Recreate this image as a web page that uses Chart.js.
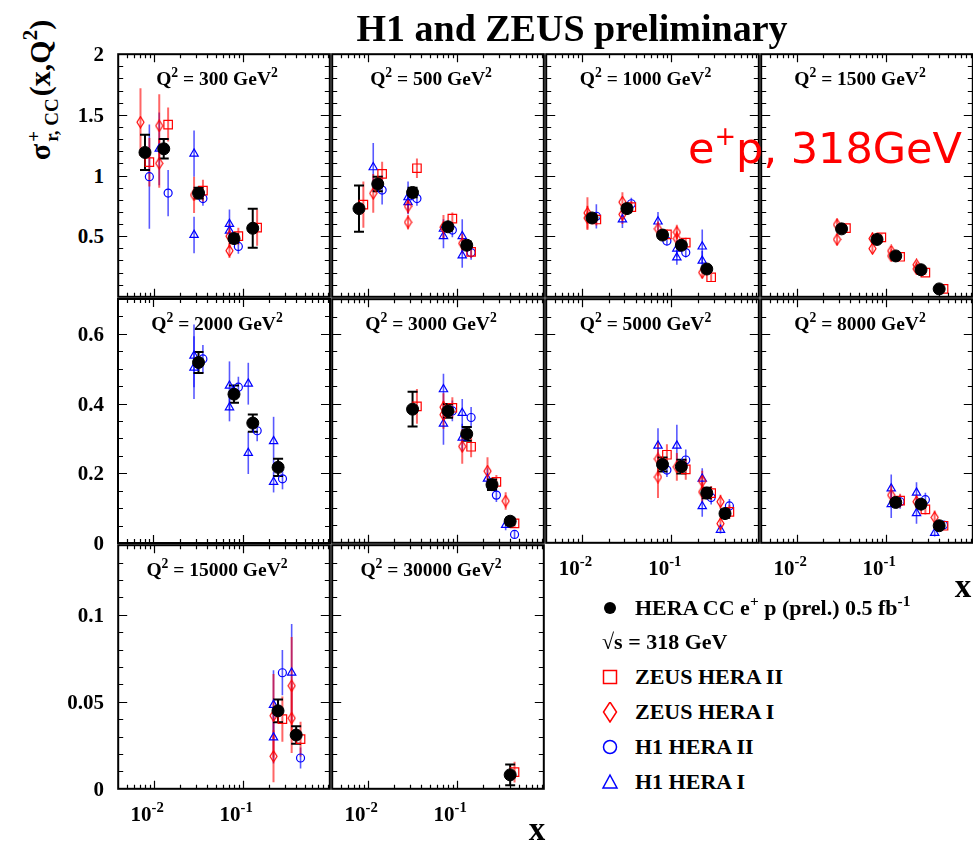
<!DOCTYPE html>
<html><head><meta charset="utf-8">
<script src="https://cdn.jsdelivr.net/npm/chart.js@4.4.0/dist/chart.umd.min.js"></script>
<style>
body{margin:0;background:#fff;width:973px;height:842px;overflow:hidden;position:relative;font-family:"Liberation Serif","Times New Roman",serif;font-weight:bold;color:#000;}
canvas.p{position:absolute;}
.t{position:absolute;white-space:nowrap;line-height:1;}
.t sup{font-size:70%;vertical-align:0;position:relative;top:-0.6em;}
.stk{display:inline-flex;flex-direction:column;font-size:19px;line-height:0.95;vertical-align:middle;text-align:left;margin:0 2px;}
</style></head><body>
<script>
// ---------------- data ----------------
const q2Values = [300, 500, 1000, 1500, 2000, 3000, 5000, 8000, 15000, 30000];
const xTickValues = [0.01, 0.1];
const xTickLabels = ['10<sup>-2</sup>', '10<sup>-1</sup>'];
const rowYMax = [2, 0.7, 0.14];
const rowYTickValues = [[0.5, 1, 1.5, 2], [0, 0.2, 0.4, 0.6], [0, 0.05, 0.1]];
const rowYTickLabels = [['0.5', '1', '1.5', '2'], ['0', '0.2', '0.4', '0.6'], ['0', '0.05', '0.1']];
const seriesNames = ['HERA CC e+ p (prel.) 0.5 fb-1', 'ZEUS HERA II', 'ZEUS HERA I', 'H1 HERA II', 'H1 HERA I'];

// each entry: [x, sigma_r, error] ; one list per Q2 panel
const heraCC = [
  [[0.008,1.19,0.145],[0.013,1.22,0.08],[0.032,0.855,0.045],[0.08,0.48,0.035],[0.13,0.565,0.16]],
  [[0.008,0.727,0.19],[0.013,0.93,0.06],[0.032,0.86,0.04],[0.08,0.577,0.03],[0.13,0.425,0.03]],
  [[0.013,0.65,0.03],[0.032,0.727,0.03],[0.08,0.509,0.025],[0.13,0.425,0.02],[0.25,0.229,0.02]],
  [[0.032,0.56,0.02],[0.08,0.473,0.02],[0.13,0.337,0.015],[0.25,0.223,0.015],[0.4,0.065,0.01]],
  [[0.032,0.518,0.03],[0.08,0.427,0.025],[0.13,0.344,0.025],[0.25,0.217,0.025]],
  [[0.032,0.384,0.05],[0.08,0.379,0.02],[0.13,0.313,0.02],[0.25,0.167,0.015],[0.4,0.062,0.01]],
  [[0.08,0.225,0.02],[0.13,0.219,0.02],[0.25,0.143,0.015],[0.4,0.084,0.012]],
  [[0.13,0.116,0.01],[0.25,0.111,0.01],[0.4,0.049,0.008]],
  [[0.25,0.0448,0.0065],[0.4,0.0309,0.005]],
  [[0.4,0.008,0.006]]
];
const zeusHera2 = [
  [[0.008,1.11,0.2],[0.013,1.42,0.14],[0.032,0.875,0.09],[0.08,0.50,0.07],[0.13,0.57,0.15]],
  [[0.008,0.76,0.19],[0.013,1.013,0.1],[0.032,1.06,0.08],[0.08,0.645,0.05],[0.13,0.37,0.05]],
  [[0.013,0.637,0.05],[0.032,0.74,0.05],[0.08,0.514,0.04],[0.13,0.446,0.04],[0.25,0.161,0.03]],
  [[0.032,0.566,0.03],[0.08,0.49,0.03],[0.13,0.33,0.025],[0.25,0.2,0.02],[0.4,0.065,0.015]],
  [],
  [[0.032,0.392,0.05],[0.08,0.388,0.03],[0.13,0.276,0.03],[0.25,0.175,0.02],[0.4,0.056,0.01]],
  [[0.08,0.253,0.03],[0.13,0.211,0.03],[0.25,0.143,0.02],[0.4,0.089,0.02]],
  [[0.13,0.121,0.02],[0.25,0.096,0.015],[0.4,0.049,0.01]],
  [[0.25,0.040,0.013],[0.4,0.0286,0.01]],
  [[0.4,0.0096,0.006]]
];
const zeusHera1 = [
  [[0.008,1.44,0.28],[0.013,1.41,0.26],[0.013,1.10,0.2],[0.032,0.84,0.15],[0.08,0.50,0.1],[0.08,0.38,0.06]],
  [[0.013,0.853,0.16],[0.032,0.746,0.06],[0.032,0.615,0.06],[0.08,0.574,0.1],[0.13,0.44,0.08]],
  [[0.013,0.691,0.13],[0.013,0.65,0.1],[0.032,0.781,0.08],[0.032,0.68,0.08],[0.08,0.56,0.06],[0.13,0.533,0.06],[0.13,0.48,0.06],[0.25,0.2,0.05]],
  [[0.032,0.595,0.05],[0.032,0.473,0.05],[0.08,0.48,0.05],[0.08,0.397,0.04],[0.13,0.378,0.04],[0.13,0.337,0.04],[0.25,0.264,0.03],[0.25,0.23,0.03]],
  [],
  [[0.08,0.39,0.04],[0.08,0.368,0.04],[0.13,0.277,0.05],[0.25,0.206,0.04],[0.4,0.12,0.025]],
  [[0.08,0.241,0.05],[0.08,0.189,0.06],[0.13,0.218,0.04],[0.25,0.146,0.03],[0.25,0.177,0.03],[0.4,0.118,0.02],[0.4,0.055,0.02]],
  [[0.13,0.137,0.03],[0.25,0.118,0.02],[0.4,0.073,0.02]],
  [[0.25,0.042,0.024],[0.25,0.0187,0.015],[0.4,0.0592,0.028],[0.4,0.0406,0.02]],
  []
];
const h1Hera2 = [
  [[0.008,0.99,0.43],[0.013,0.855,0.19],[0.032,0.81,0.06],[0.08,0.415,0.06]],
  [[0.013,0.88,0.12],[0.032,0.81,0.06],[0.08,0.55,0.06],[0.13,0.365,0.06]],
  [[0.013,0.664,0.1],[0.032,0.767,0.05],[0.08,0.46,0.04],[0.13,0.365,0.04]],
  [],
  [[0.032,0.528,0.04],[0.08,0.447,0.03],[0.13,0.322,0.03],[0.25,0.184,0.03]],
  [[0.08,0.379,0.03],[0.13,0.36,0.03],[0.25,0.137,0.02],[0.4,0.024,0.01]],
  [[0.08,0.209,0.02],[0.13,0.238,0.03],[0.25,0.13,0.02],[0.4,0.106,0.02]],
  [[0.13,0.118,0.02],[0.25,0.124,0.02],[0.4,0.051,0.01]],
  [[0.25,0.0667,0.013],[0.4,0.0177,0.006]],
  []
];
const h1Hera1 = [
  [[0.013,1.22,0.3],[0.032,1.18,0.19],[0.032,0.51,0.15],[0.08,0.60,0.12],[0.08,0.545,0.08]],
  [[0.013,1.067,0.2],[0.032,0.82,0.13],[0.032,0.78,0.1],[0.08,0.5,0.1],[0.08,0.56,0.08],[0.13,0.5,0.14],[0.13,0.34,0.1]],
  [[0.032,0.637,0.07],[0.08,0.62,0.08],[0.13,0.397,0.07],[0.13,0.324,0.06],[0.25,0.414,0.14],[0.25,0.297,0.08]],
  [],
  [[0.032,0.537,0.09],[0.032,0.503,0.09],[0.08,0.451,0.07],[0.08,0.389,0.04],[0.13,0.457,0.06],[0.13,0.258,0.06],[0.25,0.292,0.07],[0.25,0.175,0.03]],
  [[0.08,0.441,0.045],[0.08,0.342,0.06],[0.13,0.373,0.04],[0.13,0.302,0.04],[0.25,0.184,0.03],[0.4,0.051,0.015]],
  [[0.08,0.279,0.05],[0.13,0.279,0.06],[0.25,0.184,0.03],[0.25,0.105,0.03],[0.4,0.037,0.01]],
  [[0.13,0.156,0.04],[0.13,0.111,0.04],[0.25,0.144,0.03],[0.25,0.085,0.03],[0.4,0.028,0.01]],
  [[0.25,0.0482,0.02],[0.25,0.0295,0.015],[0.4,0.0667,0.028]],
  []
];

// ---------------- layout / style ----------------
const COLS = [117, 331, 545, 760], COLW = [214, 214, 215, 214];
const ROWS = [53, 298, 544], ROWH = [245, 246, 246];
const X_MIN = 0.004, X_MAX = 0.955;
const M = 6;

function addText(html, x, y, css, anchor) {
  const d = document.createElement('div');
  d.className = 't'; d.innerHTML = html;
  d.style.left = x + 'px'; d.style.top = y + 'px';
  d.style.cssText += css || '';
  d.style.transform = anchor || 'translate(-50%,-50%)';
  document.body.appendChild(d);
  return d;
}

function diamondImg(w, h, color, lw) {
  const c = document.createElement('canvas');
  c.width = w + 2; c.height = h + 2;
  const g = c.getContext('2d');
  g.strokeStyle = color; g.lineWidth = lw;
  g.beginPath();
  g.moveTo(c.width / 2, 1); g.lineTo(c.width - 1, c.height / 2);
  g.lineTo(c.width / 2, c.height - 1); g.lineTo(1, c.height / 2);
  g.closePath(); g.stroke();
  return c;
}
const diamond = diamondImg(7, 11, '#ff0000', 1.2);

const errorBars = {
  id: 'errorBars',
  beforeDatasetsDraw(chart) {
    const ctx = chart.ctx, xs = chart.scales.x, ys = chart.scales.y, a = chart.chartArea;
    ctx.save();
    ctx.beginPath(); ctx.rect(a.left, a.top - 2, a.right - a.left, a.bottom - a.top + 2); ctx.clip();
    const dsets = chart.data.datasets;
    for (let i = dsets.length - 1; i >= 0; i--) {
      const ds = dsets[i];
      ctx.strokeStyle = ds.errColor; ctx.lineWidth = ds.errWidth;
      ds.data.forEach(p => {
        const px = xs.getPixelForValue(p.x);
        const y1 = ys.getPixelForValue(p.y - p.e), y2 = ys.getPixelForValue(p.y + p.e);
        ctx.beginPath(); ctx.moveTo(px, y1); ctx.lineTo(px, y2); ctx.stroke();
        if (ds.errCap) {
          ctx.beginPath();
          ctx.moveTo(px - ds.errCap, y1); ctx.lineTo(px + ds.errCap, y1);
          ctx.moveTo(px - ds.errCap, y2); ctx.lineTo(px + ds.errCap, y2);
          ctx.stroke();
        }
      });
    }
    ctx.restore();
  }
};

const frame = {
  id: 'frame',
  afterDraw(chart, args, o) {
    const ctx = chart.ctx, xs = chart.scales.x, ys = chart.scales.y, a = chart.chartArea;
    ctx.save();
    ctx.strokeStyle = '#000'; ctx.lineWidth = 1.2;
    ctx.beginPath();
    const n = Math.round(o.yMax / o.yMinor);
    for (let k = 1; k < n; k++) {
      const v = k * o.yMinor;
      const major = Math.abs(v / o.yMajor - Math.round(v / o.yMajor)) < 1e-6;
      const len = major ? 9 : 5;
      const py = Math.round(ys.getPixelForValue(v)) + 0.5;
      ctx.moveTo(a.left, py); ctx.lineTo(a.left + len, py);
      ctx.moveTo(a.right, py); ctx.lineTo(a.right - len, py);
    }
    for (let e = -3; e <= 0; e++) {
      for (let m = 1; m <= 9; m++) {
        const v = m * Math.pow(10, e);
        if (v <= X_MIN || v >= X_MAX) continue;
        const len = m === 1 ? 8 : 4;
        const px = Math.round(xs.getPixelForValue(v)) + 0.5;
        ctx.moveTo(px, a.bottom); ctx.lineTo(px, a.bottom - len);
        ctx.moveTo(px, a.top); ctx.lineTo(px, a.top + len);
      }
    }
    ctx.stroke();
    ctx.lineWidth = 2;
    ctx.strokeRect(a.left, a.top, a.right - a.left, a.bottom - a.top);
    ctx.restore();
  }
};

const toPts = arr => arr.map(r => ({x: r[0], y: r[1], e: r[2]}));
const shift = (arr, f) => arr.map(r => ({x: r[0] * f, y: r[1], e: r[2]}));

for (let p = 0; p < q2Values.length; p++) {
  const row = Math.floor(p / 4), col = p % 4;
  const L = COLS[col], T = ROWS[row], W = COLW[col], H = ROWH[row];
  const cv = document.createElement('canvas');
  cv.className = 'p';
  cv.width = W + 2 * M; cv.height = H + 2 * M;
  cv.style.left = (L - M) + 'px'; cv.style.top = (T - M) + 'px';
  cv.style.width = cv.width + 'px'; cv.style.height = cv.height + 'px';
  document.body.appendChild(cv);

  const datasets = [
    {label: seriesNames[0], data: toPts(heraCC[p]), pointStyle: 'circle', pointRadius: 6,
     backgroundColor: '#000', borderColor: '#000', borderWidth: 1, errColor: '#000', errWidth: 2, errCap: 5},
    {label: seriesNames[1], data: shift(zeusHera2[p], 1.12), pointStyle: 'rect', pointRadius: 6,
     backgroundColor: 'rgba(0,0,0,0)', borderColor: '#ff0000', borderWidth: 1.2, errColor: 'rgba(255,0,0,0.6)', errWidth: 2},
    {label: seriesNames[2], data: shift(zeusHera1[p], 0.89), pointStyle: diamond, pointRadius: 5,
     backgroundColor: 'rgba(0,0,0,0)', borderColor: '#ff0000', borderWidth: 1.2, errColor: 'rgba(255,0,0,0.6)', errWidth: 2},
    {label: seriesNames[3], data: shift(h1Hera2[p], 1.12), pointStyle: 'circle', pointRadius: 4,
     backgroundColor: 'rgba(0,0,0,0)', borderColor: '#0000ff', borderWidth: 1.2, errColor: 'rgba(0,0,255,0.65)', errWidth: 1.6},
    {label: seriesNames[4], data: shift(h1Hera1[p], 0.89), pointStyle: 'triangle', pointRadius: 4.8,
     backgroundColor: 'rgba(0,0,0,0)', borderColor: '#0000ff', borderWidth: 1.2, errColor: 'rgba(0,0,255,0.65)', errWidth: 1.6}
  ];

  const chart = new Chart(cv, {
    type: 'scatter',
    data: {datasets},
    options: {
      responsive: false, animation: false, devicePixelRatio: 1,
      layout: {padding: M},
      clip: false,
      plugins: {legend: {display: false}, tooltip: {enabled: false},
        frame: {yMax: rowYMax[row], yMinor: [0.1, 0.05, 0.01][row], yMajor: [0.5, 0.2, 0.05][row]}},
      scales: {
        x: {type: 'logarithmic', min: X_MIN, max: X_MAX, display: false},
        y: {type: 'linear', min: 0, max: rowYMax[row], display: false}
      }
    },
    plugins: [errorBars, frame]
  });

  addText('Q<sup>2</sup> = ' + q2Values[p] + ' GeV<sup>2</sup>', L + W / 2 - 7, T + 26, 'font-size:19.5px;');

  if (col === 0) {
    rowYTickValues[row].forEach((v, i) => {
      const py = (T - M) + chart.scales.y.getPixelForValue(v);
      addText(rowYTickLabels[row][i], 104, py, 'font-size:21px;', 'translate(-100%,-50%)');
    });
  }
  const lowest = (col < 2 && row === 2) || (col >= 2 && row === 1);
  if (lowest) {
    xTickValues.forEach((v, i) => {
      const px = (L - M) + chart.scales.x.getPixelForValue(v);
      addText(xTickLabels[i], px - 23, T + H + 24, 'font-size:21px;', 'translate(0,-50%)');
    });
  }
}

addText('H1 and ZEUS preliminary', 572, 28, 'font-size:38px;');
addText('x', 963, 586, 'font-size:33px;');
addText('x', 537, 829, 'font-size:33px;');
addText('e<sup style="font-size:60%;top:-0.7em">+</sup>p, 318GeV', 688, 148,
  'font-family:"DejaVu Sans",sans-serif;font-weight:normal;font-size:43px;color:#ff0000;', 'translate(0,-50%)');
addText('σ<span class="stk"><span>+</span><span>r, CC</span></span>(x,Q<sup>2</sup>)', 43, 90,
  'font-size:30px;', 'translate(-50%,-50%) rotate(-90deg)');

const legendRows = [
  {y: 608, icon: '<circle cx="10" cy="10" r="6" fill="#000"/>', text: 'HERA CC e<sup>+</sup> p (prel.) 0.5 fb<sup>-1</sup>'},
  {y: 677, icon: '<rect x="3.5" y="3.5" width="13" height="13" fill="none" stroke="#ff0000" stroke-width="1.5"/>', text: seriesNames[1]},
  {y: 712, icon: '<polygon points="10,0 16.5,10 10,20 3.5,10" fill="none" stroke="#ff0000" stroke-width="1.5"/>', text: seriesNames[2]},
  {y: 747, icon: '<circle cx="10" cy="10" r="6.5" fill="none" stroke="#0000ff" stroke-width="1.5"/>', text: seriesNames[3]},
  {y: 782, icon: '<polygon points="10,3 17,16 3,16" fill="none" stroke="#0000ff" stroke-width="1.5"/>', text: seriesNames[4]}
];
legendRows.forEach(r => {
  const s = document.createElement('div');
  s.style.cssText = 'position:absolute;left:600px;top:' + (r.y - 10) + 'px;width:20px;height:20px;';
  s.innerHTML = '<svg width="20" height="21" viewBox="0 0 20 21">' + r.icon + '</svg>';
  document.body.appendChild(s);
  addText(r.text, 635, r.y, 'font-size:22px;', 'translate(0,-50%)');
});
addText('√s = 318 GeV', 602, 642, 'font-size:22px;', 'translate(0,-50%)');
</script>
</body></html>
